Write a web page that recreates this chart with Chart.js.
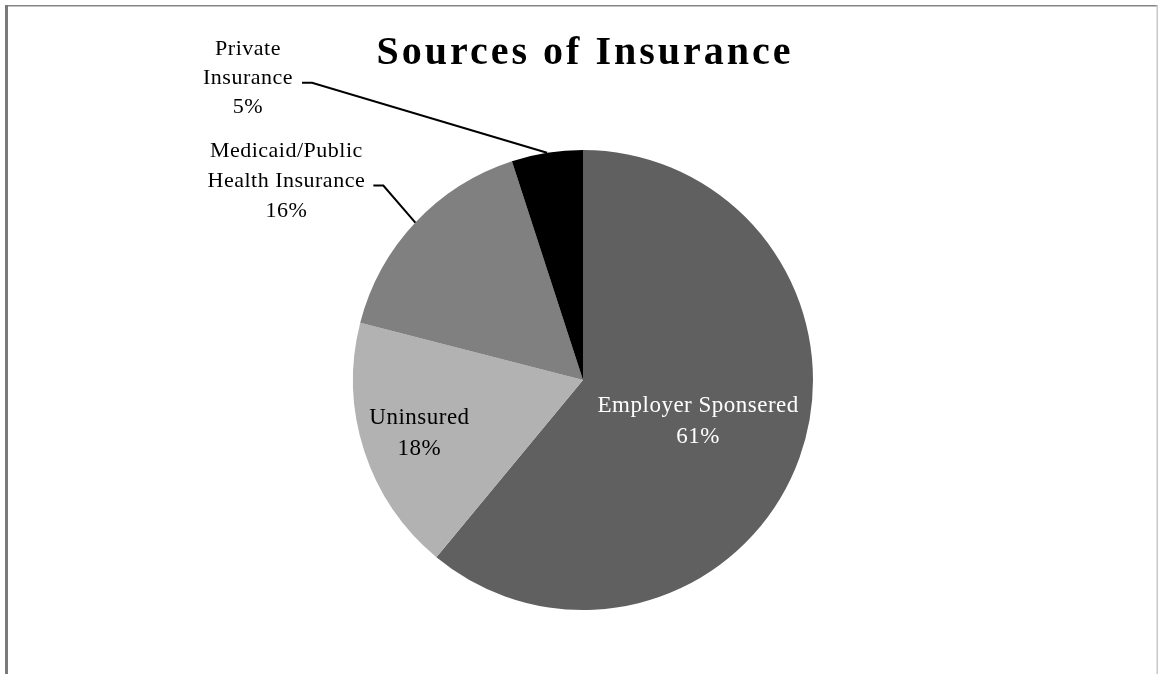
<!DOCTYPE html>
<html><head><meta charset="utf-8">
<script src="https://cdn.jsdelivr.net/npm/chart.js@4"></script>
<style>html,body{margin:0;padding:0;background:#fff;overflow:hidden}#wrap{width:1158px;height:674px;position:relative}</style>
</head><body><div id="wrap"><canvas id="c" width="1158" height="674"></canvas></div>
<script>
// ---- data ----
const titleText = 'Sources of Insurance';
const categories = ['Employer Sponsered', 'Uninsured', 'Medicaid/Public Health Insurance', 'Private Insurance'];
const labelLines = [['Employer Sponsered'], ['Uninsured'], ['Medicaid/Public', 'Health Insurance'], ['Private', 'Insurance']];
const shares = [61, 18, 16, 5];
const percentLabels = ['61%', '18%', '16%', '5%'];
const sliceColors = ['#606060', '#b2b2b2', '#808080', '#000000'];

// ---- label styling (positions relative to slice geometry) ----
const FONT = '"Liberation Serif", "Times New Roman", serif';
const labelStyle = [
  {inside: true, f: 0.53, color: '#ffffff', size: 23, lh: 31},
  {inside: true, f: 0.75, color: '#000000', size: 23, lh: 31},
  {inside: false, elbow: [-32, -37], tail: 10, textDx: -87, textDy: -4, color: '#000000', size: 22, lh: 30},
  {inside: false, elbow: [-235, -70], tail: 10, textDx: -54, textDy: -5, color: '#000000', size: 22, lh: 29}
];

const framePlugin = {
  id: 'frame',
  beforeDraw(chart) {
    const ctx = chart.ctx;
    ctx.save();
    ctx.fillStyle = '#ffffff';
    ctx.fillRect(0, 0, chart.width, chart.height);
    ctx.fillStyle = '#858585';
    ctx.fillRect(5, 5, chart.width - 5, 1.5);
    ctx.fillStyle = '#7a7a7a';
    ctx.fillRect(5, 5, 3, chart.height - 5);
    ctx.fillStyle = '#c8c8c8';
    ctx.fillRect(chart.width - 1.5, 5, 1.5, chart.height - 5);
    ctx.restore();
  }
};

function drawLines(ctx, lines, cx, cy, lh) {
  const n = lines.length;
  lines.forEach((t, k) => {
    ctx.fillText(t, cx, cy + (k - (n - 1) / 2) * lh);
  });
}

const labelPlugin = {
  id: 'sliceLabels',
  afterDatasetsDraw(chart) {
    const ctx = chart.ctx;
    const meta = chart.getDatasetMeta(0);
    ctx.save();
    // title
    ctx.font = 'bold 40px ' + FONT;
    ctx.fillStyle = '#000';
    ctx.textAlign = 'center';
    ctx.textBaseline = 'alphabetic';
    try { ctx.letterSpacing = '3px'; } catch (e) {}
    ctx.fillText(titleText, (chart.chartArea.left + chart.chartArea.right) / 2 + 2, 64);

    ctx.textBaseline = 'middle';
    meta.data.forEach((arc, i) => {
      const p = arc.getProps(['x', 'y', 'startAngle', 'endAngle', 'outerRadius'], true);
      const mid = (p.startAngle + p.endAngle) / 2;
      const st = labelStyle[i];
      const lines = labelLines[i].concat([percentLabels[i]]);
      ctx.font = st.size + 'px ' + FONT;
      try { ctx.letterSpacing = '0.5px'; } catch (e) {}
      ctx.fillStyle = st.color;
      if (st.inside) {
        const r = p.outerRadius * st.f;
        drawLines(ctx, lines, p.x + Math.cos(mid) * r + 0.5, p.y + Math.sin(mid) * r, st.lh);
      } else {
        const ex = p.x + Math.cos(mid) * p.outerRadius;
        const ey = p.y + Math.sin(mid) * p.outerRadius;
        const bx = ex + st.elbow[0], by = ey + st.elbow[1];
        const tx = bx - st.tail;
        ctx.strokeStyle = '#000';
        ctx.lineWidth = 2;
        ctx.beginPath();
        ctx.moveTo(ex, ey);
        ctx.lineTo(bx, by);
        ctx.lineTo(tx, by);
        ctx.stroke();
        const cy = by + st.textDy;
        drawLines(ctx, lines, tx + st.textDx, cy, st.lh);
      }
    });
    ctx.restore();
  }
};

new Chart(document.getElementById('c'), {
  type: 'pie',
  data: {
    labels: categories,
    datasets: [{
      data: shares,
      backgroundColor: sliceColors,
      borderWidth: 0
    }]
  },
  options: {
    responsive: false,
    animation: false,
    layout: {padding: {left: 353, right: 345, top: 150, bottom: 64}},
    plugins: {
      legend: {display: false},
      tooltip: {enabled: false},
      title: {display: false}
    }
  },
  plugins: [framePlugin, labelPlugin]
});
</script>
</body></html>
